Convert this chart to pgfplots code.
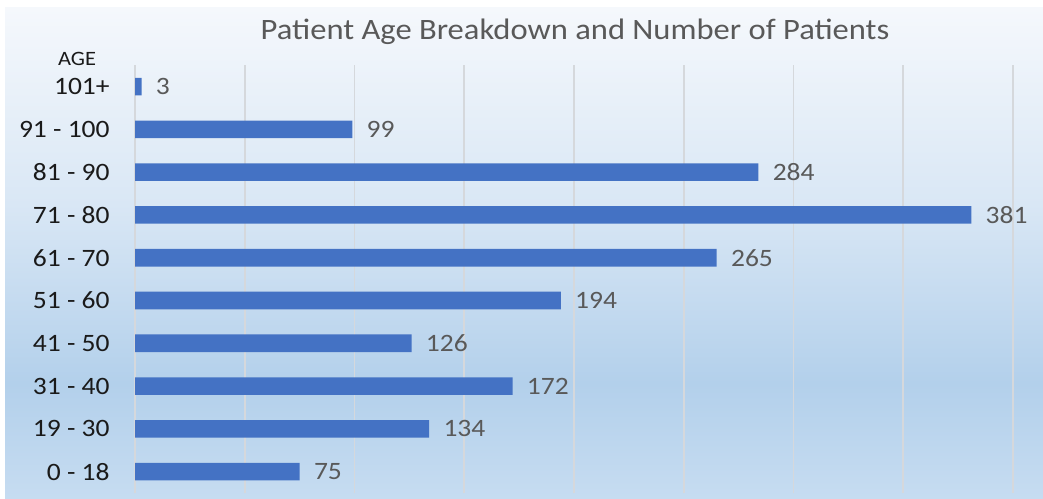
\documentclass[border=0pt]{standalone}
\usepackage{fontspec}
\setmainfont{Carlito}[FakeStretch=1.1]
\usepackage{pgfplots}
\pgfplotsset{compat=1.18}
\definecolor{barblue}{HTML}{4472C4}
\definecolor{gridc}{HTML}{D5D8DC}
\definecolor{titlec}{HTML}{595959}
\definecolor{labc}{HTML}{1A1A1A}
\definecolor{bgtop}{HTML}{F5F8FC}
\definecolor{bgmid}{HTML}{D9E7F5}
\definecolor{bgdark}{HTML}{B3D0EB}
\definecolor{bgbot}{HTML}{C6DCF1}
\pgfdeclareverticalshading{bgshade}{100bp}{color(0bp)=(bgbot); color(25bp)=(bgbot); color(36.7bp)=(bgdark); color(55bp)=(bgmid); color(75bp)=(bgtop); color(100bp)=(bgtop)}
\begin{document}
\begin{tikzpicture}
\useasboundingbox (0,0) rectangle (521.5pt,249pt);
\fill[white] (0,0) rectangle (521.5pt,249pt);
\shade[shading=bgshade] (2.5pt,0) rectangle (521.5pt,245pt);
\begin{axis}[
  at={(67.5pt,2.5pt)}, anchor=south west,
  scale only axis,
  width=439pt, height=213.9pt,
  xbar, bar width=8.8pt,
  xmin=0, xmax=400,
  ymin=-0.5, ymax=9.5,
  xtick={0,50,...,400},
  xticklabels={},
  xmajorgrids,
  grid style={gridc, line width=0.9pt},
  ytick={0,...,9},
  yticklabels={0 - 18,19 - 30,31 - 40,41 - 50,51 - 60,61 - 70,71 - 80,81 - 90,91 - 100,101+},
  yticklabel style={inner sep=0pt, xshift=-12.5pt, font=\fontsize{12.5}{14}\selectfont, text=labc},
  major tick length=0pt,
  axis line style={draw=none},
  /pgf/number format/assume math mode=true,
  nodes near coords,
  every node near coord/.append style={anchor=west, inner sep=0pt, xshift=7pt, font=\fontsize{12.5}{14}\selectfont, text=titlec},
  clip=false,
]
\addplot[fill=barblue, draw=none] coordinates {
 (75,0) (134,1) (172,2) (126,3) (194,4) (265,5) (381,6) (284,7) (99,8) (3,9)};
\end{axis}
\node[text=labc, font=\fontsize{10.2}{12}\selectfont] at (38.5pt,219.5pt) {AGE};
\node[text=titlec, font=\fontsize{14.8}{17}\selectfont] at (287.5pt,233pt) {Patient Age Breakdown and Number of Patients};
\end{tikzpicture}
\end{document}
